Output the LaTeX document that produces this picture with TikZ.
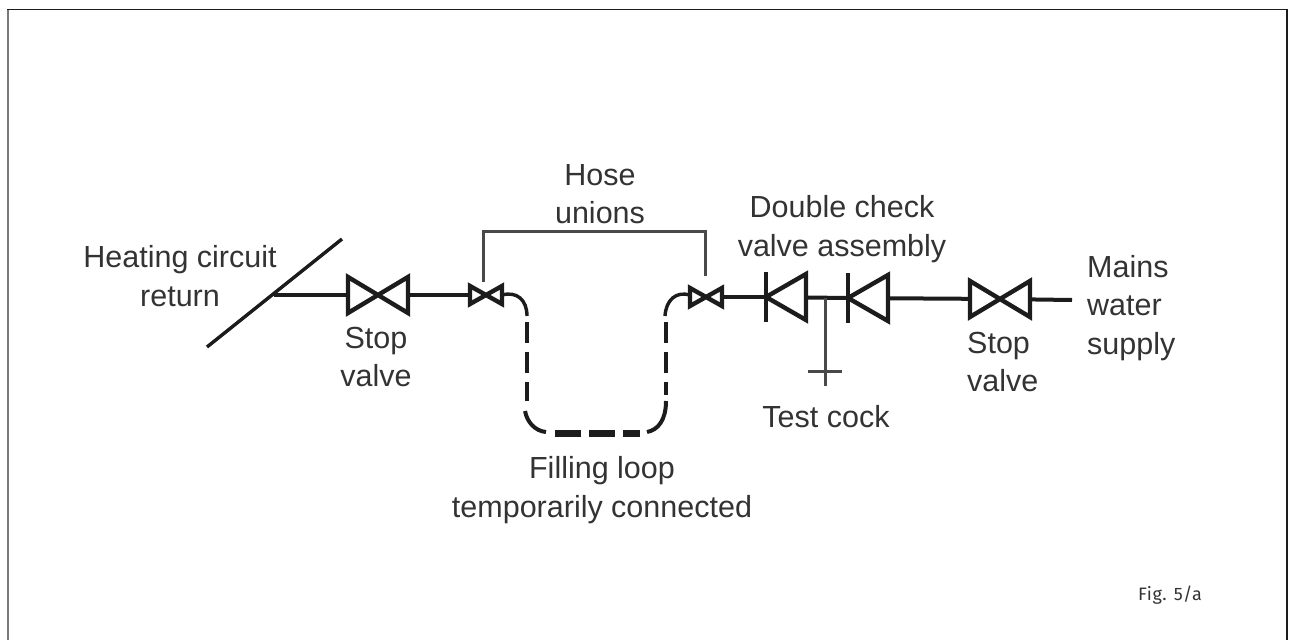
\documentclass[tikz,border=0pt]{standalone}
\usepackage{fontspec}
\setmainfont{Liberation Sans}
\newfontfamily\figfont[LetterSpace=3,Numbers=Lining]{Fira Sans}
\definecolor{ink}{HTML}{1c1c1c}
\definecolor{txt}{HTML}{333333}
\definecolor{framegray}{HTML}{7a7a7a}
\tikzset{
  lbl/.style={text=txt,font=\fontsize{30.5}{38.5}\selectfont,align=center,inner sep=0pt},
  lblleft/.style={lbl,align=left,anchor=west},
  pipe/.style={draw=ink,line width=4pt},
  thin pipe/.style={draw=ink!80,line width=3pt},
  vbody/.style={draw=ink,line width=4.4pt,miter limit=3},
  hosedash/.style={draw=ink,line width=4.4pt,dash pattern=on 21pt off 9pt},
  hosethick/.style={draw=ink,line width=7pt,dash pattern=on 26pt off 8pt},
  pics/bowtie/.style n args={2}{code={
    \draw[vbody] (-#1,-#2) -- (#1,#2) -- (#1,-#2) -- (-#1,#2) -- cycle;
  }},
  pics/check/.style={code={
    \draw[vbody] (0,-25) -- (0,25);
    \draw[vbody] (0,0) -- (40,-23) -- (40,23) -- cycle;
  }}
}
\begin{document}
\begin{tikzpicture}[x=1pt,y=-1pt]
\useasboundingbox (0,0) rectangle (1293,640);
\draw[framegray,line width=2pt] (8,9.5) -- (8,640);
\draw[ink,line width=1.3pt] (7,9.5) -- (1287,9.5) -- (1287,640);
% named points
\coordinate (retA) at (207,347);
\coordinate (retB) at (342,239);
\coordinate (junc) at (274,295);
\coordinate (sv1) at (378,295);
\coordinate (hu1) at (486,295);
\coordinate (hu2) at (706,297);
\coordinate (cv1) at (766,297);
\coordinate (cv2) at (848,298);
\coordinate (tee) at (825,298);
\coordinate (teeEnd) at (825,386);
\coordinate (barA) at (808,371);
\coordinate (barB) at (842,371);
\coordinate (sv2) at (1000,299);
\coordinate (mains) at (1072,300);
\coordinate (brA) at (483,282);
\coordinate (brB) at (705,276);
% pipes
\draw[pipe,line width=3.4pt] (retA) -- (retB);
\draw[pipe] (junc) -- (sv1);
\draw[pipe] (sv1) -- (hu1);
\draw[pipe] (hu2) -- (cv1);
\draw[pipe] (cv1) -- (cv2);
\draw[pipe] (cv2) -- (sv2);
\draw[pipe] (sv2) -- (mains);
\draw[thin pipe] (tee) -- (teeEnd);
\draw[thin pipe] (barA) -- (barB);
\draw[thin pipe] (brA) |- (530,231) -- (705,231) -- (brB);
% white interiors
\fill[white] (348,277) -- (378,295) -- (348,313) -- cycle (408,277) -- (378,295) -- (408,313) -- cycle;
\fill[white] (470,286) -- (486,295) -- (470,304) -- cycle (502,286) -- (486,295) -- (502,304) -- cycle;
\fill[white] (690,288) -- (706,297) -- (690,306) -- cycle (722,288) -- (706,297) -- (722,306) -- cycle;
\fill[white] (766,297) -- (806,274) -- (806,320) -- cycle;
\fill[white] (848,298) -- (888,275) -- (888,321) -- cycle;
\fill[white] (970,281) -- (1000,299) -- (970,317) -- cycle (1030,281) -- (1000,299) -- (1030,317) -- cycle;
% valves
\pic at (sv1) {bowtie={30}{18}};
\pic at (hu1) {bowtie={16}{9}};
\pic at (hu2) {bowtie={16}{9}};
\pic at (cv1) {check};
\pic at (cv2) {check};
\pic at (sv2) {bowtie={30}{18}};
% hose
\draw[pipe,line width=3.4pt] (hu1) ++(16,0) .. controls (517,291) and (527,300) .. (527,316);
\draw[hosedash] (527,322) -- (527,401);
\draw[pipe] (525,411) .. controls (527,422) and (535,431) .. (546,432);
\draw[hosethick] (555,433) -- (640,433);
\draw[pipe] (666,401) .. controls (666,420) and (658,430) .. (647,432);
\draw[hosedash] (666,322) -- (666,395);
\draw[pipe,line width=3.4pt] (690,295) .. controls (676,291) and (666,300) .. (665,316);
% labels
\node[lbl] (l1) at (180,276) {Heating circuit\\return};
\node[lbl] (l2) at (376,357) {Stop\\valve};
\node[lbl] (l3) at (600,194) {Hose\\unions};
\node[lbl] (l4) at (842,229) {Double check\\valve assembly};
\node[lbl] (l5) at (826,417) {Test cock};
\node[lblleft] (l6) at (967,362) {Stop\\valve};
\node[lblleft] (l7) at (1087,308) {Mains\\water\\supply};
\node[lbl] (l8) at (602,490) {Filling loop\\temporarily connected};
\node[inner sep=0pt,text=txt,font=\figfont\fontsize{18}{22}\selectfont] (l9) at (1170,595) {Fig. 5/a};
\end{tikzpicture}
\end{document}
